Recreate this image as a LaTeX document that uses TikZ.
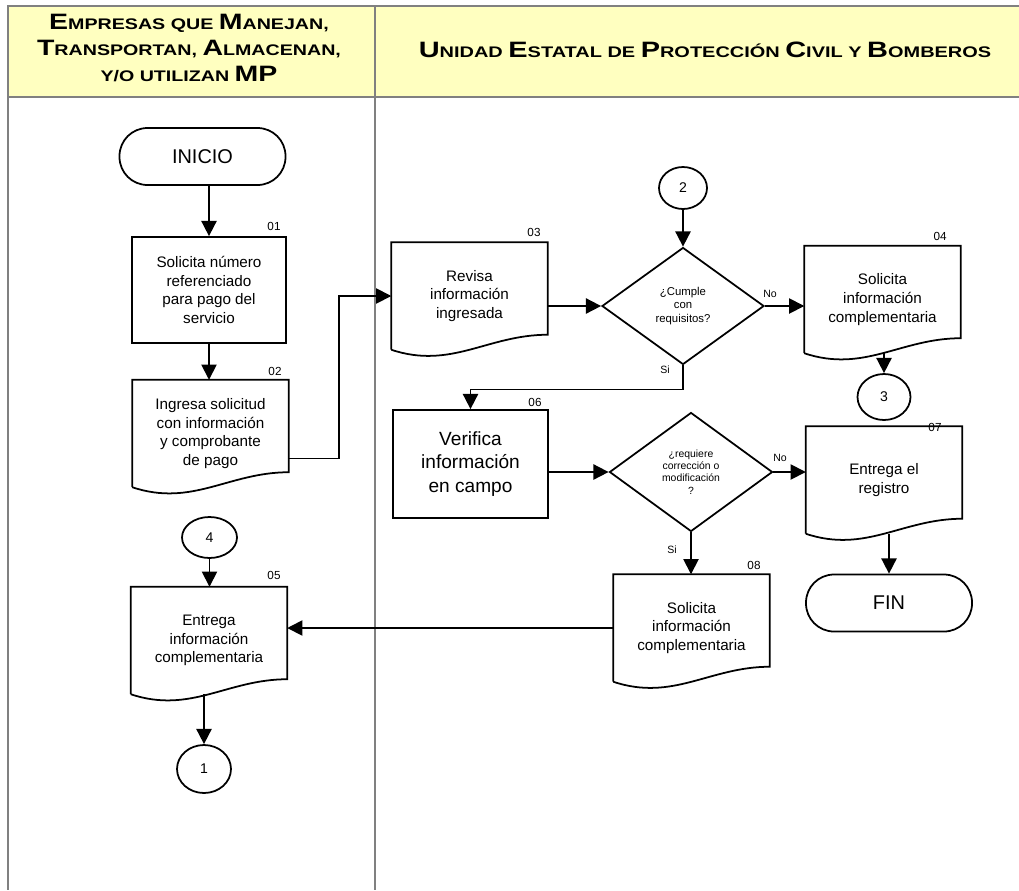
\documentclass[tikz,border=0pt]{standalone}
\usepackage{fontspec}
\setmainfont{Liberation Sans}
\usepackage{graphicx}
\usetikzlibrary{calc}
\usetikzlibrary{arrows.meta}
\usetikzlibrary{shapes.geometric}
\usetikzlibrary{positioning}

\definecolor{hdyellow}{RGB}{255,255,192}
\definecolor{rulegray}{RGB}{128,128,128}
\newcommand{\pxu}{0.03cm}
\newcommand{\hcap}[2]{{\fontsize{19}{22.4}\selectfont #1}#2}

\begin{document}
\begin{tikzpicture}[x=0.03cm, y=-0.03cm,
    line/.style={line width=1.5pt},
    flow/.style={line width=1.5pt, -{Triangle[length=13pt, width=13pt]}},
    box/.style={draw, line width=1.5pt, align=center, inner sep=0pt,
      font=\fontsize{13}{16}\selectfont},
    docbox/.style={align=center, inner sep=0pt,
      font=\fontsize{13}{16}\selectfont,
      minimum width=156*\pxu, minimum height=107*\pxu},
    term/.style={box, rounded corners=28*\pxu, font=\fontsize{17}{20}\selectfont,
      minimum width=166*\pxu, minimum height=57*\pxu},
    decision/.style={diamond, draw, line width=1.5pt, align=center, inner sep=0pt,
      aspect=1.38},
    conn/.style={ellipse, draw, line width=1.5pt, inner sep=0pt,
      font=\fontsize{12}{14}\selectfont},
    num/.style={font=\fontsize{10}{12}\selectfont, inner sep=0pt},
    yesno/.style={font=\fontsize{9}{11}\selectfont, inner sep=0pt},
    header/.style={align=center, inner sep=0pt,
      font=\bfseries\fontsize{13.1}{22.4}\selectfont}]
    \useasboundingbox (0,0) rectangle (1019,890);

    % swimlane table
    \fill[hdyellow] (8,6) rectangle (1019,97);
    \draw[rulegray, line width=2.2pt] (1019,6) -- (8,6) -- (8,890);
    \draw[rulegray, line width=2.2pt] (8,97) -- (1019,97);
    \draw[rulegray, line width=2.2pt] (375,6) -- (375,890);

    \node[header] (lane1) at (189,48)
      {\scalebox{1.28}[1]{\hcap{E}{MPRESAS QUE} \hcap{M}{ANEJAN,}}\\
       \scalebox{1.28}[1]{\hcap{T}{RANSPORTAN,} \hcap{A}{LMACENAN,}}\\
       \scalebox{1.28}[1]{Y/O UTILIZAN \hcap{MP}{}}};
    \node[header] (lane2) at (705,50)
      {\scalebox{1.3}[1]{\hcap{U}{NIDAD} \hcap{E}{STATAL DE} \hcap{P}{ROTECCIÓN}
       \hcap{C}{IVIL Y} \hcap{B}{OMBEROS}}};

    % left lane
    \node[term] (inicio) at (202.5,156.5) {INICIO};
    \node[box, minimum width=154*\pxu, minimum height=106*\pxu] (b01) at (209,290)
      {Solicita número\\referenciado\\para pago del\\servicio};
    \node[docbox] (b02) at (210.5,433.5)
      {Ingresa solicitud\\con información\\y comprobante\\de pago};
    \node[conn, minimum width=55*\pxu, minimum height=41*\pxu] (c4) at (209.5,537.5) {4};
    \node[docbox] (b05) at (209,640.5)
      {Entrega\\información\\complementaria};
    \node[conn, minimum width=54*\pxu, minimum height=48*\pxu] (c1) at (204,769) {1};

    % right lane
    \node[docbox] (b03) at (469.5,296) {Revisa\\información\\ingresada};
    \node[conn, minimum width=48*\pxu, minimum height=42*\pxu] (c2) at (683,188) {2};
    \node[decision, minimum width=162*\pxu, minimum height=117*\pxu,
      font=\fontsize{9.7}{11.5}\selectfont] (d1) at (683,306)
      {¿Cumple\\con\\requisitos?};
    \node[docbox] (b04) at (882.5,299.5) {Solicita\\información\\complementaria};
    \node[conn, minimum width=53*\pxu, minimum height=46*\pxu] (c3) at (884,397) {3};
    \node[box, minimum width=155*\pxu, minimum height=108*\pxu,
      font=\fontsize{16.3}{20}\selectfont] (b06) at (470.5,464)
      {Verifica\\información\\en campo};
    \node[decision, minimum width=163*\pxu, minimum height=119*\pxu,
      font=\fontsize{8.9}{10.6}\selectfont] (d2) at (691,472)
      {¿requiere\\corrección o\\modificación\\?};
    \node[docbox] (b07) at (884,480) {Entrega el\\registro};
    \node[term] (fin) at (889,603) {FIN};
    \node[docbox] (b08) at (691.5,628) {Solicita\\información\\complementaria};

    % document outlines
    \foreach \d in {b02,b03,b04,b05,b07,b08}
      \draw[line] (\d.south west) -- (\d.north west) -- (\d.north east)
        -- ($(\d.south east)+(0,-15)$) .. controls +(-60,0) and +(60,20) .. (\d.south west);

    % step numbers
    \node[num] (n01) at (274,226) {01};
    \node[num] (n02) at (275,371) {02};
    \node[num] (n03) at (534,232) {03};
    \node[num] (n04) at (940,236) {04};
    \node[num] (n05) at (274,575) {05};
    \node[num] (n06) at (535,402) {06};
    \node[num] (n07) at (935,427) {07};
    \node[num] (n08) at (754,565) {08};

    % connectors
    \draw[flow] (b01.north |- inicio.south) -- (b01.north);
    \draw[flow] (b01.south) -- (b01.south |- b02.north);
    \draw[flow] ($(b02.east)+(0,25)$) -- ++(50,0) |- (b03.west);
    \draw[flow] (d1.west -| b03.east) -- (d1.west);
    \draw[flow] (c2.south) -- (d1.north);
    \draw[flow] (d1.east) -- (d1.east -| b04.west);
    \draw[flow] (c3.north |- b04.south) -- (c3.north);
    \draw[flow] (d1.south) -- ++(0,24) -| (b06.north);
    \draw[flow] (d2.west -| b06.east) -- (d2.west);
    \draw[flow] (d2.east) -- (d2.east -| b07.west);
    \draw[flow] (fin.north |- b07.south) -- (fin.north);
    \draw[flow] (d2.south) -- (d2.south |- b08.north);
    \draw[flow] (b08.west) -- (b08.west -| b05.east);
    \draw[flow] (c4.south) -- (c4.south |- b05.north);
    \draw[flow] (c1.north |- b05.south) -- (c1.north);

    \node[yesno] (no1) at (770,294) {No};
    \node[yesno] (si1) at (665,370) {Si};
    \node[yesno] (no2) at (780,458) {No};
    \node[yesno] (si2) at (672,550) {Si};
\end{tikzpicture}
\end{document}
